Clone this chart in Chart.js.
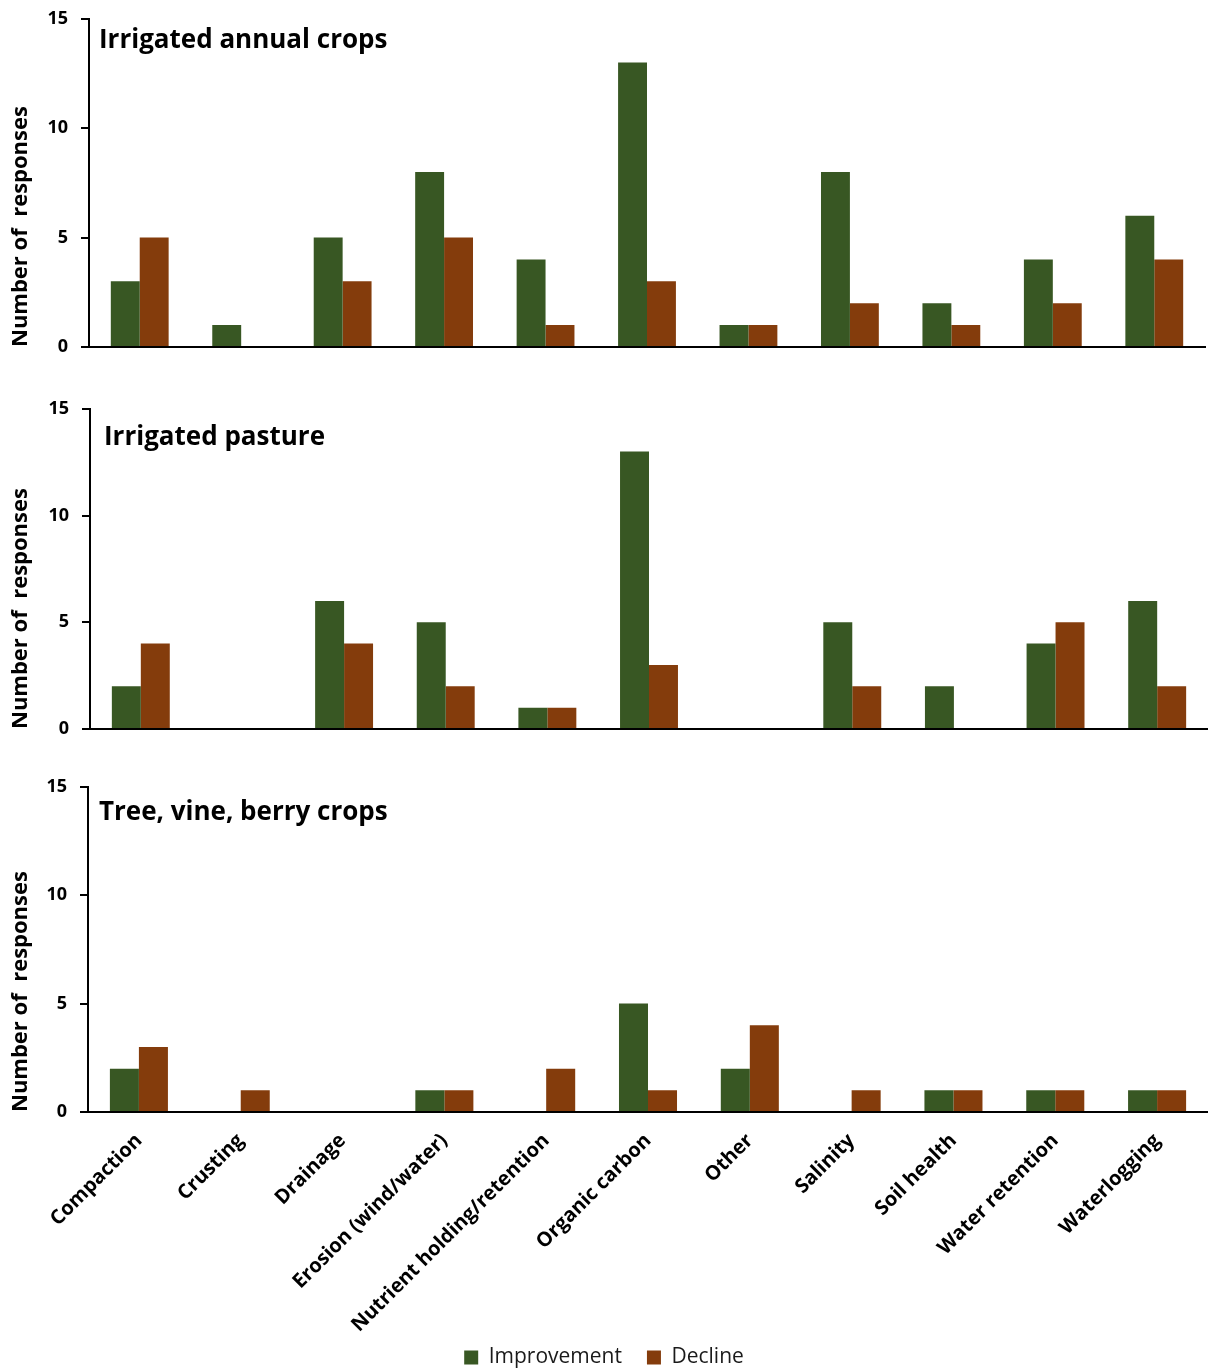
<!DOCTYPE html>
<html>
<head>
	<title>Soil condition changes by land use</title>
	<meta charset="utf-8" />
	<script src="https://cdn.jsdelivr.net/npm/chart.js@4.4.1/dist/chart.umd.min.js"></script>
	<style>
		body { margin: 0; background: #fff; }
		#parent { position: relative; width: 1208px; height: 1369px; overflow: hidden; }
		.panel { position: absolute; left: 0; width: 1208px; }
	</style>
</head>
<body>

<div id="parent">
	<div class="panel" style="top:-5px; height:380px;"><canvas id="chart1"></canvas></div>
	<div class="panel" style="top:385px; height:372px;"><canvas id="chart2"></canvas></div>
	<div class="panel" style="top:763px; height:630px;"><canvas id="chart3"></canvas></div>
</div>

<script type="text/javascript">
// categories on the x axis (shared by all panels)
var categories = ['Compaction', 'Crusting', 'Drainage', 'Erosion (wind/water)', 'Nutrient holding/retention',
	'Organic carbon', 'Other', 'Salinity', 'Soil health', 'Water retention', 'Waterlogging'];

var seriesNames = ['Improvement', 'Decline'];
var yTicks = [0, 5, 10, 15];

// Irrigated annual crops
var annualImprovement = [3, 1, 5, 8, 4, 13, 1, 8, 2, 4, 6];
var annualDecline     = [5, 0, 3, 5, 1, 3, 1, 2, 1, 2, 4];

// Irrigated pasture
var pastureImprovement = [2, 0, 6, 5, 1, 13, 0, 5, 2, 4, 6];
var pastureDecline     = [4, 0, 4, 2, 1, 3, 0, 2, 0, 5, 2];

// Tree, vine, berry crops
var treeImprovement = [2, 0, 0, 1, 0, 5, 2, 0, 1, 1, 1];
var treeDecline     = [3, 1, 0, 1, 2, 1, 4, 1, 1, 1, 1];

var greenCol = '#385723';
var brownCol = '#843c0c';
var fontFam = '"Open Sans", Lato, sans-serif';

// draws the panel name inside the plot area, top left
var panelTitle = {
	id: 'panelTitle',
	afterDraw: function (chart, args, opts) {
		var ctx = chart.ctx, a = chart.chartArea;
		ctx.save();
		ctx.font = 'bold 26px ' + fontFam;
		ctx.fillStyle = '#000';
		ctx.textBaseline = 'alphabetic';
		ctx.textAlign = 'left';
		ctx.fillText(opts.text, a.left + opts.dx, a.top + opts.dy);
		ctx.restore();
	}
};

// pulls the legend up a bit so it sits into the space left by the tall x labels
var legendShift = {
	id: 'legendShift',
	afterLayout: function (chart, args, opts) {
		if (chart.legend && opts.dy) {
			chart.legend.top -= opts.dy;
			chart.legend.bottom -= opts.dy;
		}
	}
};

function makePanel(id, title, improvement, decline, p) {
	var ctx = document.getElementById(id).getContext('2d');
	return new Chart(ctx, {
		type: 'bar',
		data: {
			labels: categories,
			datasets: [
				{ label: seriesNames[0], data: improvement, backgroundColor: greenCol, borderWidth: 0 },
				{ label: seriesNames[1], data: decline, backgroundColor: brownCol, borderWidth: 0 }
			]
		},
		plugins: [panelTitle, legendShift],
		options: {
			responsive: true,
			maintainAspectRatio: false,
			animation: false,
			layout: { padding: { top: 5, bottom: p.bottom, left: 0, right: p.right } },
			datasets: { bar: { categoryPercentage: 0.57, barPercentage: 1.0 } },
			scales: {
				x: {
					grid: { display: false },
					border: { display: true, color: '#000', width: 2 },
					ticks: {
						display: p.showLabels,
						autoSkip: false,
						minRotation: 45,
						maxRotation: 45,
						padding: 9,
						color: '#000',
						font: { family: fontFam, size: 20, weight: 'bold' }
					},
					afterFit: function (s) { s.height = p.xHeight; }
				},
				y: {
					min: 0,
					max: 15,
					afterBuildTicks: function (s) { s.ticks = yTicks.map(function (v) { return { value: v }; }); },
					grid: { drawOnChartArea: false, drawTicks: true, tickLength: 8, color: '#000', lineWidth: 2 },
					border: { display: true, color: '#000', width: 2 },
					ticks: {
						padding: 13,
						color: '#000',
						font: { family: fontFam, size: 18, weight: 'bold' }
					},
					title: {
						display: true,
						text: 'Number of  responses',
						align: 'start',
						color: '#000',
						padding: { top: 8, bottom: 0 },
						font: { family: fontFam, size: 22, weight: 'bold' }
					},
					afterFit: function (s) { s.width = p.yWidth; }
				}
			},
			plugins: {
				legend: {
					display: p.legend,
					position: 'bottom',
					labels: {
						boxWidth: 14,
						boxHeight: 14,
						padding: 25,
						color: '#1a1a1a',
						font: { family: fontFam, size: 21 }
					}
				},
				tooltip: { enabled: false },
				panelTitle: { text: title, dx: p.tdx, dy: p.tdy },
				legendShift: { dy: p.legendUp }
			}
		}
	});
}

makePanel('chart1', 'Irrigated annual crops', annualImprovement, annualDecline,
	{ bottom: 8, right: 3, xHeight: 20, yWidth: 89, showLabels: false, legend: false, tdx: 10, tdy: 29, legendUp: 0 });
makePanel('chart2', 'Irrigated pasture', pastureImprovement, pastureDecline,
	{ bottom: 8, right: 0, xHeight: 20, yWidth: 90, showLabels: false, legend: false, tdx: 14, tdy: 36, legendUp: 0 });
makePanel('chart3', 'Tree, vine, berry crops', treeImprovement, treeDecline,
	{ bottom: 0, right: 0, xHeight: 225, yWidth: 88, showLabels: true, legend: true, tdx: 11, tdy: 33, legendUp: 15 });
</script>
</body>
</html>
